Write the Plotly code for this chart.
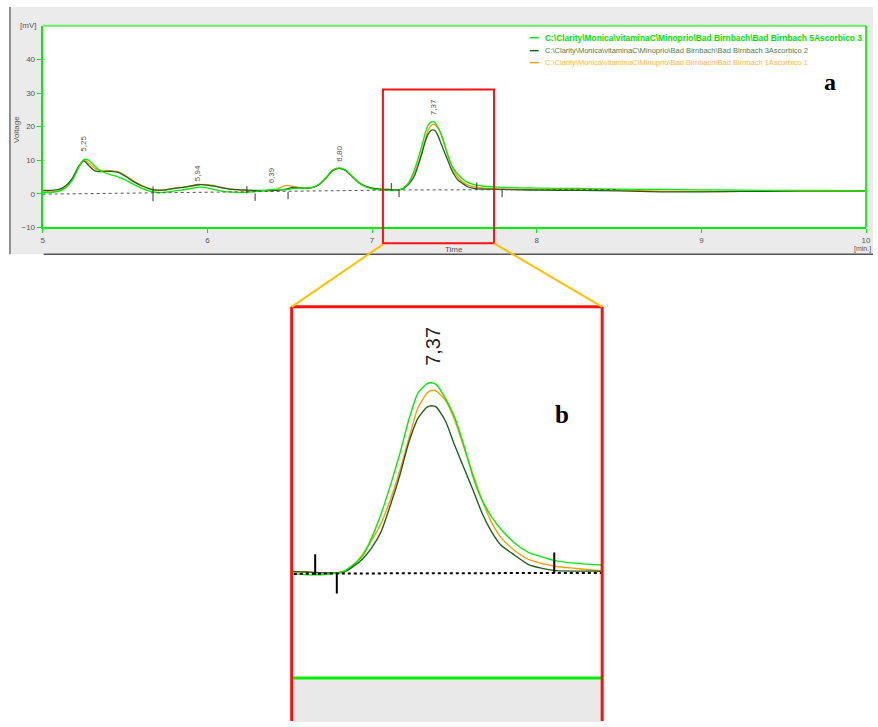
import plotly.graph_objects as go

W, H = 878, 727

# ---------------- data ----------------
time_min = [5.00, 5.05, 5.10, 5.14, 5.18, 5.22, 5.25, 5.28, 5.31, 5.34, 5.38, 5.42, 5.46, 5.50, 5.55,
            5.60, 5.65, 5.70, 5.75, 5.80, 5.85, 5.90, 5.95, 6.00, 6.05, 6.10, 6.15, 6.20, 6.25, 6.30,
            6.35, 6.40, 6.44, 6.48, 6.52, 6.56, 6.60, 6.64, 6.68, 6.72, 6.76, 6.80, 6.84, 6.88, 6.92,
            6.96, 7.00, 7.05, 7.10, 7.15, 7.18, 7.20, 7.22, 7.24, 7.26, 7.28, 7.30, 7.32, 7.34, 7.36,
            7.37, 7.38, 7.40, 7.42, 7.44, 7.46, 7.48, 7.50, 7.52, 7.55, 7.58, 7.61, 7.64, 7.68, 7.72,
            7.76, 7.80, 7.90, 8.00, 8.25, 8.50, 8.75, 9.00, 9.25, 9.50, 9.75, 10.00]

ascorbico_3 = [0.4, 0.4, 0.8, 1.8, 4.0, 8.0, 10.2, 10.0, 8.6, 7.2, 6.2, 5.6, 5.0, 4.2, 2.9,
               1.7, 0.8, 0.4, 0.5, 0.9, 1.2, 1.6, 2.0, 1.8, 1.2, 0.7, 0.5, 0.4, 0.5, 0.7,
               1.0, 1.3, 1.3, 1.2, 1.6, 1.7, 1.7, 1.9, 2.9, 4.8, 7.0, 7.7, 7.0, 5.2, 3.3,
               2.1, 1.5, 1.2, 1.0, 1.1, 1.4, 2.1, 3.0, 5.0, 7.5, 10.5, 13.8, 17.5, 20.4, 21.4,
               21.5, 21.3, 19.8, 17.8, 14.8, 11.4, 8.9, 7.2, 5.9, 4.4, 3.4, 2.9, 2.5, 2.25, 2.1,
               2.0, 1.9, 1.8, 1.7, 1.6, 1.4, 1.3, 1.2, 1.1, 1.0, 1.0, 0.9]

ascorbico_2 = [1.0, 1.0, 1.3, 2.4, 4.6, 8.3, 9.8, 8.4, 7.0, 6.6, 6.7, 6.7, 6.4, 5.3, 3.7,
               2.4, 1.5, 1.1, 1.2, 1.6, 1.9, 2.3, 2.7, 2.6, 2.2, 1.7, 1.3, 1.2, 1.1, 1.0,
               1.0, 1.0, 1.1, 1.4, 1.9, 1.8, 1.7, 1.9, 2.8, 4.7, 6.9, 7.6, 6.9, 5.1, 3.3,
               2.2, 1.7, 1.4, 1.3, 1.2, 1.3, 1.9, 2.7, 3.9, 5.6, 8.4, 11.5, 15.1, 17.7, 18.9,
               19.05, 18.9, 17.4, 14.8, 12.4, 10.0, 7.5, 5.6, 4.2, 3.1, 2.1, 1.7, 1.45, 1.4, 1.4,
               1.35, 1.3, 1.2, 1.1, 1.0, 0.9, 0.6, 0.6, 0.7, 0.8, 0.9, 0.9]

ascorbico_1 = [0.6, 0.6, 0.9, 2.0, 4.3, 8.0, 10.0, 9.2, 7.8, 7.1, 6.9, 6.8, 6.5, 5.5, 3.9,
               2.5, 1.5, 1.0, 1.2, 1.7, 2.0, 2.4, 2.8, 2.7, 2.3, 1.8, 1.4, 1.1, 0.9, 0.8,
               0.8, 1.0, 1.8, 2.5, 2.2, 1.8, 1.7, 1.9, 2.8, 4.6, 6.8, 7.6, 7.0, 5.2, 3.4,
               2.3, 1.7, 1.4, 1.3, 1.2, 1.4, 2.0, 3.2, 4.7, 6.5, 9.0, 12.0, 15.5, 18.8, 20.4,
               20.7, 20.6, 19.6, 17.5, 14.6, 11.7, 8.9, 6.6, 5.0, 3.6, 2.65, 2.2, 1.9, 1.7, 1.5,
               1.45, 1.4, 1.35, 1.3, 1.2, 1.1, 0.8, 0.7, 0.7, 0.8, 0.8, 0.8]

assert len(time_min) == len(ascorbico_3) == len(ascorbico_2) == len(ascorbico_1)

series_names = [
    "C:\\Clarity\\Monica\\vitaminaC\\Minoprio\\Bad Birnbach\\Bad Birnbach 5Ascorbico 3",
    "C:\\Clarity\\Monica\\vitaminaC\\Minoprio\\Bad Birnbach\\Bad Birnbach 3Ascorbico 2",
    "C:\\Clarity\\Monica\\vitaminaC\\Minoprio\\Bad Birnbach\\Bad Birnbach 1Ascorbico 1",
]

baseline_t = [5.0, 7.16, 7.64, 8.5]
baseline_v = [-0.1, 1.15, 1.2, 1.3]

# integration marks: time, start value, direction (+1 up, -1 down)
mark_t = [5.67, 5.67, 6.24, 6.29, 6.49, 7.117, 7.164, 7.636, 7.79]
mark_v = [0.0, 0.0, 0.1, 0.1, 0.6, 1.0, 1.2, 1.2, 1.2]
mark_dir = [1, -1, 1, -1, -1, 1, -1, 1, -1]
MARK_LEN = 2.2

peak_t = [5.25, 5.94, 6.39, 6.80, 7.37]
peak_labels = ["5,25", "5,94", "6,39", "6,80", "7,37"]
peak_label_v = [11.9, 3.3, 2.4, 9.0, 22.8]

x_ticks = [5, 6, 7, 8, 9, 10]
y_ticks = [-10, 0, 10, 20, 30, 40]

zoom_t = [7.066, 7.74]

# ---------------- styling ----------------
colors = ["#00ee00", "#1f5f1f", "#ff9a00"]
legend_text_colors = ["#00e000", "#4a804a", "#ffb347"]
legend_sizes = [8.4, 7.5, 7.5]
FONT = "Liberation Sans, Arial, sans-serif"


def px(x):
    return x / W


def py(y):
    return 1 - y / H


top_dom_x = [px(41), px(871)]
top_dom_y = [py(229), py(26)]
bot_dom_x = [px(292), px(605)]
bot_dom_y = [0, py(309)]

fig = go.Figure()
series = [ascorbico_1, ascorbico_2, ascorbico_3]
series_cols = [colors[2], colors[1], colors[0]]
for vals, col in zip(series, series_cols):
    fig.add_trace(go.Scatter(x=time_min, y=vals, mode="lines", xaxis="x", yaxis="y",
                             line=dict(color=col, width=1.3, shape="spline", smoothing=0.6),
                             showlegend=False, hoverinfo="skip"))
    fig.add_trace(go.Scatter(x=time_min, y=vals, mode="lines", xaxis="x2", yaxis="y2",
                             line=dict(color=col, width=1.4, shape="spline", smoothing=0.6),
                             showlegend=False, hoverinfo="skip"))

# baselines
fig.add_trace(go.Scatter(x=baseline_t, y=baseline_v, mode="lines", xaxis="x", yaxis="y",
                         line=dict(color="#555555", width=1, dash="dot"), showlegend=False,
                         hoverinfo="skip"))
fig.add_trace(go.Scatter(x=baseline_t, y=baseline_v, mode="lines", xaxis="x2", yaxis="y2",
                         line=dict(color="#000000", width=2, dash="dot"), showlegend=False,
                         hoverinfo="skip"))

# integration marks
mx, my = [], []
for t, v, d in zip(mark_t, mark_v, mark_dir):
    mx += [t, t, None]
    my += [v, v + d * MARK_LEN, None]
fig.add_trace(go.Scatter(x=mx, y=my, mode="lines", xaxis="x", yaxis="y",
                         line=dict(color="#333333", width=1), showlegend=False, hoverinfo="skip"))
fig.add_trace(go.Scatter(x=mx, y=my, mode="lines", xaxis="x2", yaxis="y2",
                         line=dict(color="#000000", width=2), showlegend=False, hoverinfo="skip"))

shapes = []
# grey screenshot background of panel a
shapes.append(dict(type="rect", xref="paper", yref="paper", x0=px(8), x1=1.0, y0=py(256), y1=py(7),
                   fillcolor="#ebebeb", line=dict(width=0), layer="below"))
shapes.append(dict(type="rect", xref="paper", yref="paper", x0=top_dom_x[0], x1=top_dom_x[1],
                   y0=top_dom_y[0], y1=top_dom_y[1], fillcolor="white", line=dict(width=0),
                   layer="below"))
shapes.append(dict(type="line", xref="paper", yref="paper", x0=px(8), x1=px(8), y0=py(256), y1=py(7),
                   line=dict(color="#6f6f6f", width=1.5)))
shapes.append(dict(type="line", xref="paper", yref="paper", x0=px(42), x1=1.0, y0=py(256), y1=py(256),
                   line=dict(color="#555555", width=1.5)))
# plot frame
shapes.append(dict(type="line", xref="paper", yref="paper", x0=top_dom_x[0], x1=top_dom_x[1],
                   y0=top_dom_y[1], y1=top_dom_y[1], line=dict(color="#66ee66", width=2)))
shapes.append(dict(type="line", xref="paper", yref="paper", x0=top_dom_x[1], x1=top_dom_x[1],
                   y0=top_dom_y[0], y1=top_dom_y[1], line=dict(color="#22ee22", width=2)))
# bottom panel: grey region below -10 and green axis line
shapes.append(dict(type="rect", xref="x2", yref="y2", x0=zoom_t[0], x1=zoom_t[1], y0=-30, y1=-10,
                   fillcolor="#e9e9e9", line=dict(width=0), layer="below"))
shapes.append(dict(type="line", xref="x2", yref="y2", x0=zoom_t[0], x1=zoom_t[1], y0=-10, y1=-10,
                   line=dict(color="#00ee00", width=3)))
# red boxes
shapes.append(dict(type="rect", xref="paper", yref="paper", x0=px(384), x1=px(496), y0=py(245), y1=py(90),
                   line=dict(color="#ff1010", width=2)))
for x0, y0, x1, y1 in [(292, 309, 605, 309), (292, 309, 292, 726), (605, 309, 605, 726)]:
    shapes.append(dict(type="line", xref="paper", yref="paper", x0=px(x0), x1=px(x1), y0=py(y0), y1=py(y1),
                       line=dict(color="#ff1010", width=3)))
# yellow connectors
shapes.append(dict(type="line", xref="paper", yref="paper", x0=px(384), y0=py(246), x1=px(292), y1=py(309),
                   line=dict(color="#ffc000", width=2)))
shapes.append(dict(type="line", xref="paper", yref="paper", x0=px(496), y0=py(245), x1=px(605), y1=py(309),
                   line=dict(color="#ffc000", width=2)))

annotations = []
# legend (annotations for compact spacing)
legend_rows = [38, 51, 63]
for name, lc, tc, fs, yy, bold in zip(series_names, colors, legend_text_colors, legend_sizes,
                                      legend_rows, [True, False, False]):
    shapes.append(dict(type="line", xref="paper", yref="paper", x0=px(532), x1=px(541), y0=py(yy), y1=py(yy),
                       line=dict(color=lc, width=1.5)))
    annotations.append(dict(xref="paper", yref="paper", x=px(545), y=py(yy), xanchor="left", yanchor="middle",
                            text=("<b>%s</b>" % name) if bold else name, showarrow=False,
                            font=dict(family=FONT, size=fs, color=tc)))

# peak labels
for t, lab, v in zip(peak_t, peak_labels, peak_label_v):
    annotations.append(dict(xref="x", yref="y", x=t, y=v, text=lab, textangle=-90, showarrow=False,
                            xanchor="center", yanchor="bottom", font=dict(family=FONT, size=8, color="#555555")))
annotations.append(dict(xref="x2", yref="y2", x=7.374, y=23.1, text="7,37", textangle=-90, showarrow=False,
                        xanchor="center", yanchor="bottom", font=dict(family=FONT, size=20, color="#222222")))

# axis texts
annotations.append(dict(xref="paper", yref="paper", x=px(36), y=py(26), text="[mV]", showarrow=False,
                        xanchor="right", yanchor="middle", font=dict(family=FONT, size=8, color="#555555")))
annotations.append(dict(xref="paper", yref="paper", x=px(14), y=py(130), text="Voltage", textangle=-90,
                        showarrow=False, xanchor="center", yanchor="middle",
                        font=dict(family=FONT, size=8, color="#555555")))
annotations.append(dict(xref="paper", yref="paper", x=px(456), y=py(251), text="Time", showarrow=False,
                        xanchor="center", yanchor="middle", font=dict(family=FONT, size=8, color="#555555")))
annotations.append(dict(xref="paper", yref="paper", x=1.0, y=py(251), text="[min.]", showarrow=False,
                        xanchor="right", yanchor="middle", font=dict(family=FONT, size=7, color="#555555")))
# panel letters
annotations.append(dict(xref="paper", yref="paper", x=px(835), y=py(83), text="<b>a</b>", showarrow=False,
                        xanchor="center", yanchor="middle",
                        font=dict(family="Liberation Serif, Times New Roman, serif", size=24, color="#000000")))
annotations.append(dict(xref="paper", yref="paper", x=px(564), y=py(417), text="<b>b</b>", showarrow=False,
                        xanchor="center", yanchor="middle",
                        font=dict(family="Liberation Serif, Times New Roman, serif", size=25, color="#000000")))

fig.update_layout(
    width=W, height=H, margin=dict(l=0, r=0, t=0, b=0),
    paper_bgcolor="white", plot_bgcolor="white",
    showlegend=False,
    xaxis=dict(domain=top_dom_x, range=[5, 10], anchor="y", tickvals=x_ticks,
               ticks="outside", ticklen=4, tickcolor="#00ee00", showgrid=False, zeroline=False,
               showline=True, linecolor="#00ee00", linewidth=2,
               tickfont=dict(family=FONT, size=8, color="#555555")),
    yaxis=dict(domain=top_dom_y, range=[-10, 50], anchor="x", tickvals=y_ticks,
               ticks="outside", ticklen=4, tickcolor="#00ee00", showgrid=False, zeroline=False,
               showline=True, linecolor="#00ee00", linewidth=2,
               tickfont=dict(family=FONT, size=8, color="#555555")),
    xaxis2=dict(domain=bot_dom_x, range=zoom_t, anchor="y2", visible=False),
    yaxis2=dict(domain=bot_dom_y, range=[-14.7, 29.6], anchor="x2", visible=False),
    shapes=shapes, annotations=annotations,
)

fig.write_html("out.html")
